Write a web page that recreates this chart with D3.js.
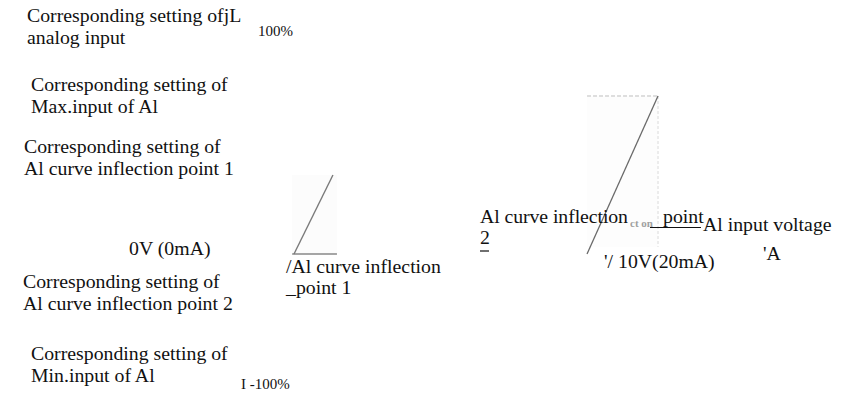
<!DOCTYPE html>
<html>
<head>
<meta charset="utf-8">
<script src="https://cdn.jsdelivr.net/npm/d3@7"></script>
<style>
  html, body { margin: 0; padding: 0; background: #fff; }
  svg { display: block; }
  text { font-family: "Liberation Serif", "Times New Roman", serif; fill: #111; }
</style>
</head>
<body>
<div id="chart"></div>
<script>
// ---- data (input in V, output setting in %) ----
const inputDomain = [0, 10];
const outputDomain = [0, 100];
const curve1 = [[0, 0], [1.07, 50]];
const curve2 = [[8.05, 0], [10, 100]];
const baseline1 = [[-0.05, 0], [1.18, 0]];
const maxGuideTop = [[8.05, 100], [10, 100]];
const maxGuideSide = [[10, 100], [10, 4.5]];
const tickLabels = ["100%", "I -100%", "0V (0mA)", "'/ 10V(20mA)"];
const leftLabels = [
  ["Corresponding setting ofjL", "analog input"],
  ["Corresponding setting of", "Max.input of Al"],
  ["Corresponding setting of", "Al curve inflection point 1"],
  ["Corresponding setting of", "Al curve inflection point 2"],
  ["Corresponding setting of", "Min.input of Al"]
];
const noteLabels = [
  ["/Al curve inflection", "_point 1"],
  ["Al curve inflection", "2"],
  ["point"],
  ["Al input voltage"],
  ["'A"]
];

// ---- layout ----
const W = 850, H = 393;
const svg = d3.select("#chart").append("svg").attr("width", W).attr("height", H);

const x = d3.scaleLinear().domain(inputDomain).range([294, 658]);
const y = d3.scaleLinear().domain(outputDomain).range([254, 96]);
const line = d3.line().x(d => x(d[0])).y(d => y(d[1]));

// faint scanned background patches
svg.append("rect").attr("x", x(-0.05)).attr("y", y(50)).attr("width", x(1.18) - x(-0.05)).attr("height", y(0) - y(50))
  .attr("fill", "#fcfcfc");
svg.append("rect").attr("x", x(8.05)).attr("y", y(100)).attr("width", x(10) - x(8.05)).attr("height", y(4.5) - y(100))
  .attr("fill", "#fdfdfd");

// guides
svg.append("path").attr("d", line(maxGuideTop)).attr("fill", "none")
  .attr("stroke", "#d4d4d4").attr("stroke-width", 1.5).attr("stroke-dasharray", "4,2");
svg.append("path").attr("d", line(maxGuideSide)).attr("fill", "none")
  .attr("stroke", "#dadada").attr("stroke-width", 1).attr("stroke-dasharray", "3,2");
svg.append("path").attr("d", line(baseline1)).attr("fill", "none")
  .attr("stroke", "#888").attr("stroke-width", 1.6);

// curves
svg.append("path").attr("d", line(curve1)).attr("fill", "none").attr("stroke", "#7a7a7a").attr("stroke-width", 1.4);
svg.append("path").attr("d", line(curve2)).attr("fill", "none").attr("stroke", "#6a6a6a").attr("stroke-width", 1.3);

// text helper
function block(lines, px, py, size, lh, widths) {
  const t = svg.append("text").attr("x", px).attr("y", py).attr("font-size", size);
  lines.forEach((s, i) => {
    const ts = t.append("tspan").attr("x", px).attr("dy", i === 0 ? 0 : lh).text(s);
    if (widths && widths[i]) ts.attr("textLength", widths[i]).attr("lengthAdjust", "spacing");
  });
  return t;
}

const FS = 19.8;
const leftPos = [[27, 22], [31, 91], [24, 153], [23, 288], [31, 360]];
leftLabels.forEach((l, i) => block(l, leftPos[i][0], leftPos[i][1], FS, 21.5));

// tick-like labels
const tickPos = [[258, 36, 15], [241, 389, 15], [129, 255, FS], [604, 268, FS]];
tickLabels.forEach((s, i) => block([s], tickPos[i][0], tickPos[i][1], tickPos[i][2], 0));

// notes
const notePos = [[286, 273], [480, 223], [663, 223], [703, 231], [763, 260]];
const noteLH = [20.5, 21];
const noteW = [null, [148, null]];
noteLabels.forEach((l, i) => block(l, notePos[i][0], notePos[i][1], FS, noteLH[i] || 0, noteW[i]));

// faint scanned artifact text
svg.append("text").attr("x", 630).attr("y", 227).attr("font-size", 11).attr("font-weight", "bold")
  .style("fill", "#8a8a8a").style("opacity", 0.8).text("ct on");

// underline under "point" and under "2"
svg.append("line").attr("x1", x(9.78)).attr("x2", x(11.18)).attr("y1", 227.5).attr("y2", 227.5)
  .attr("stroke", "#111").attr("stroke-width", 1.2);
svg.append("line").attr("x1", 480).attr("x2", 489).attr("y1", 251).attr("y2", 251)
  .attr("stroke", "#111").attr("stroke-width", 1.2);
</script>
</body>
</html>
